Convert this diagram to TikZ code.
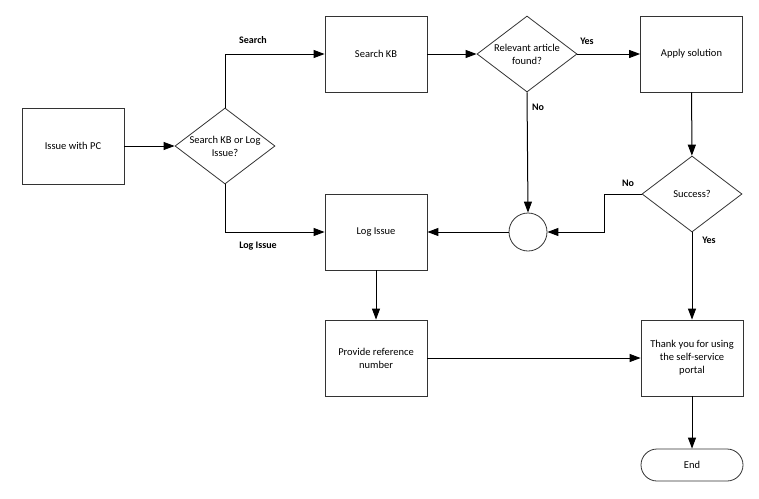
\documentclass[tikz,border=0pt]{standalone}
\usepackage{fontspec}
\setmainfont{Carlito}
\usepackage{tikz}
\usetikzlibrary{arrows.meta, positioning, shapes.geometric}

\begin{document}
\begin{tikzpicture}[
                x=1pt, y=-1pt,
                process/.style={rectangle, draw=black!80, thick, minimum width=102pt, minimum height=76pt, align=center, inner sep=2pt},
                decision/.style={diamond, draw=black!80, thick, minimum width=100pt, minimum height=76pt, inner sep=0pt},
                junction/.style={circle, draw=black!80, thick, minimum size=38pt, inner sep=0pt},
                terminal/.style={rectangle, draw=black!80, thick, rounded corners=16pt, minimum width=102pt, minimum height=32pt},
                arrow/.style={-{Triangle[length=11pt, width=8pt]}, line width=1pt},
                edgelabel/.style={font=\fontsize{10}{12}\selectfont\bfseries},
                every node/.style={font=\fontsize{10.5}{13}\selectfont}
            ]
            \useasboundingbox (0,0) rectangle (759,498);

            % Boxes
            \node[process] (issue) at (73, 146) {Issue with PC};
            \node[decision, label={[align=center]center:Search KB or Log\\Issue?}] (choice) at (225, 146) {};
            \node[process] (search) at (376, 54) {Search KB};
            \node[decision, label={[align=center]center:Relevant article\\found?}] (relevant) at (527, 54) {};
            \node[process] (apply) at (691.5, 54) {Apply solution};
            \node[decision, label={center:Success?}] (success) at (692, 194) {};
            \node[junction] (merge) at (528, 232) {};
            \node[process] (logissue) at (376, 232) {Log Issue};
            \node[process] (reference) at (376, 358) {Provide reference\\number};
            \node[process] (thanks) at (692, 358) {Thank you for using\\the self-service\\portal};
            \node[terminal] (finish) at (692, 465) {End};

            % Connectors
            \draw[arrow, line width=0.8pt] (issue) -- (choice);
            \draw[arrow] (choice.north) |- (search.west);
            \draw[arrow] (choice.south) |- (logissue.west);
            \draw[arrow] (search) -- (relevant);
            \draw[arrow] (relevant.east) -- (apply.west);
            \draw[arrow] (relevant.south) -- (merge.north);
            \draw[arrow] (apply) -- (success);
            \coordinate (bend) at (604, 194);
            \draw[arrow] (success.west) -- (bend) |- (merge.east);
            \draw[arrow] (merge.west) -- (logissue.east);
            \draw[arrow] (success.south) -- (thanks.north);
            \draw[arrow] (logissue) -- (reference);
            \draw[arrow] (reference.east) -- (thanks.west);
            \draw[arrow] (thanks) -- (finish);

            % Labels
            \node[edgelabel] (lsearch) at (253, 40) {Search};
            \node[edgelabel] (llog) at (258, 246) {Log Issue};
            \node[edgelabel] (lyes1) at (587, 41) {Yes};
            \node[edgelabel] (lno1) at (538, 107) {No};
            \node[edgelabel] (lno2) at (628, 183) {No};
            \node[edgelabel] (lyes2) at (709, 240) {Yes};
\end{tikzpicture}
\end{document}
